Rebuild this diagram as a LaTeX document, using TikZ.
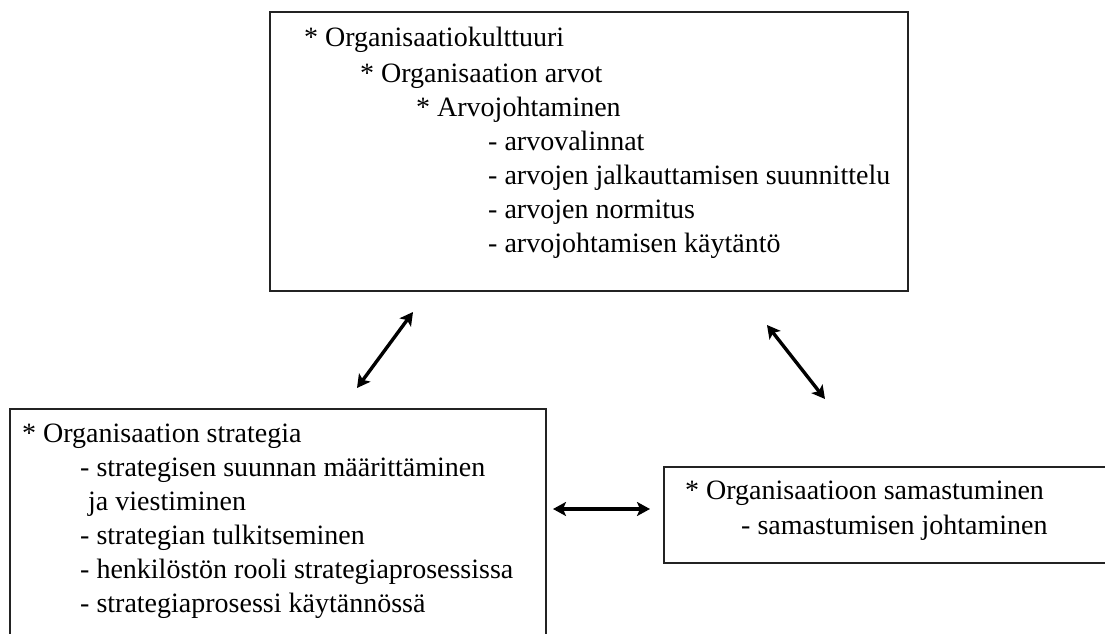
\documentclass[tikz,border=0pt]{standalone}
\usepackage{fontspec}
\setmainfont{Liberation Serif}
\usepackage{xcolor}
\usepackage{tikz}
\usetikzlibrary{arrows.meta,positioning,calc}
\definecolor{framegray}{RGB}{35,35,35}

\begin{document}
\begin{tikzpicture}[x=1pt, y=-1pt,
    every node/.style={font=\fontsize{28}{34}\selectfont, inner sep=0pt},
    frame/.style={draw=framegray, line width=1.8pt, anchor=north west},
    item/.style={anchor=base west},
    link/.style={line width=3.4pt, {Stealth[length=13pt,width=14pt,inset=3pt]}-{Stealth[length=13pt,width=14pt,inset=3pt]}}]
  \useasboundingbox (0,0) rectangle (1105,634);
  \clip (0,0) rectangle (1105,634);
  % boxes
  \node[frame, minimum width=638pt, minimum height=279pt] (kultt) at (269,11) {};
  \node[frame, minimum width=536pt, minimum height=250pt] (strat) at (9,408) {};
  \node[frame, minimum width=450pt, minimum height=96pt] (samas) at (663,466) {};
  % texts
  \foreach \x/\y/\txt [count=\i] in {304/47/* Organisaatiokulttuuri,
      360/82/* Organisaation arvot, 416/116/* Arvojohtaminen,
      488/150/- arvovalinnat, 488/184/- arvojen jalkauttamisen suunnittelu,
      488/218/- arvojen normitus, 488/252/- arvojohtamisen käytäntö}
    \node[item] (k\i) at (\x,\y) {\txt};
  \foreach \x/\y/\txt [count=\i] in {22/442/* Organisaation strategia,
      80/476/- strategisen suunnan määrittäminen, 88/510/ja viestiminen,
      80/544/- strategian tulkitseminen,
      80/578/- henkilöstön rooli strategiaprosessissa,
      80/612/- strategiaprosessi käytännössä}
    \node[item] (s\i) at (\x,\y) {\txt};
  \node[item] (m1) at (685,499) {* Organisaatioon samastuminen};
  \node[item] (m2) at (741,534) {- samastumisen johtaminen};
  % arrows
  \coordinate (a1s) at (357,388);
  \coordinate (a1e) at (413,312);
  \coordinate (a2s) at (767,325);
  \coordinate (a2e) at (825,399);
  \coordinate (a3s) at (553,509);
  \coordinate (a3e) at (650,509);
  \draw[link] (a1s) -- (a1e);
  \draw[link] (a2s) -- (a2e);
  \draw[link] (a3s) -- (a3e);
\end{tikzpicture}
\end{document}
